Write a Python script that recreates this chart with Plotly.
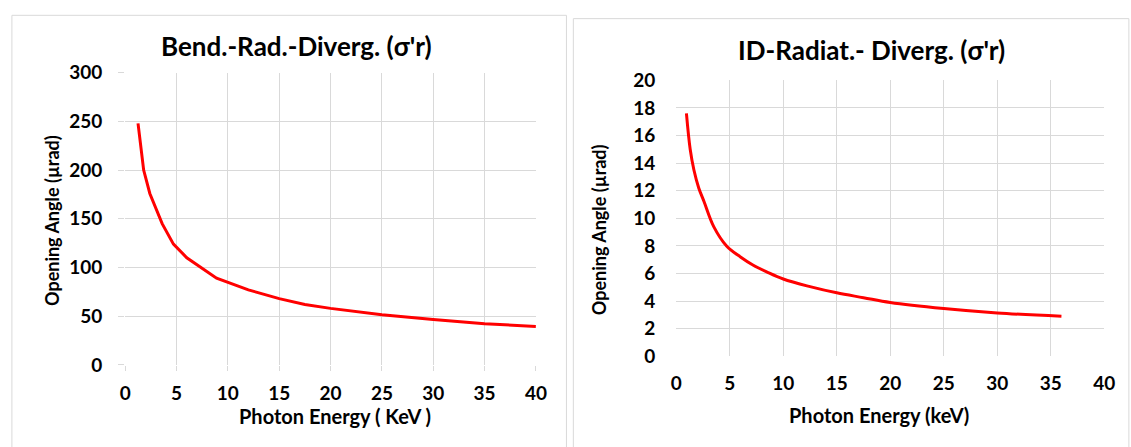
import plotly.graph_objects as go

W, H = 1131, 447

# Bending magnet radiation divergence
bm_energy = [1.25, 1.8, 2.4, 3.6, 4.7, 6.0, 8.9, 12, 15, 17.5, 20, 25, 30, 35, 40]
bm_angle = [248, 200, 176, 145, 124, 110, 89, 77, 68, 62, 58, 51.5, 46.6, 42.3, 39.4]

# Insertion device radiation divergence
id_energy = [0.95, 1.3, 1.65, 2.1, 2.6, 3.5, 4.7, 6, 7.2, 8.5, 10, 12.5, 15, 17.5, 20, 25, 30, 36]
id_angle = [17.6, 15.0, 13.5, 12.2, 11.2, 9.4, 8.0, 7.2, 6.6, 6.1, 5.6, 5.05, 4.6, 4.25, 3.9, 3.46, 3.14, 2.9]

left_title = "Bend.-Rad.-Diverg. (σ'r)"
right_title = "ID-Radiat.- Diverg. (σ'r)"
ytitle = "Opening Angle (µrad)"
left_xtitle = "Photon Energy ( KeV )"
right_xtitle = "Photon Energy (keV)"

FONT = "Lato"
RED = "#ff0000"
GRID = "#d9d9d9"

def px(x):
    return x / W

def py(y):
    return 1 - y / H

fig = go.Figure()
fig.add_trace(go.Scatter(x=bm_energy, y=bm_angle, mode="lines",
                         line=dict(color=RED, width=3), xaxis="x", yaxis="y",
                         showlegend=False))
fig.add_trace(go.Scatter(x=id_energy, y=id_angle, mode="lines",
                         line=dict(color=RED, width=3, shape="spline"),
                         xaxis="x2", yaxis="y2", showlegend=False))

tickfont = dict(family=FONT, size=19, color="#000000", weight="bold")
common = dict(showgrid=True, gridcolor=GRID, gridwidth=1, zeroline=False,
              showline=False, tickfont=tickfont)

fig.update_layout(
    width=W, height=H, margin=dict(l=0, r=0, t=0, b=0),
    paper_bgcolor="white", plot_bgcolor="white",
    xaxis=dict(domain=[px(121), px(538)], range=[0, 40], dtick=5, anchor="y",
               ticks="outside", ticklen=5, tickcolor=GRID, ticklabelstandoff=6,
               **common),
    yaxis=dict(domain=[py(372), py(64)], range=[0, 300], dtick=50, anchor="x",
               ticks="outside", ticklen=6, tickcolor=GRID, ticklabelstandoff=12,
               **common),
    xaxis2=dict(domain=[px(680.5), px(1115)], range=[0, 40], dtick=5, anchor="y2",
                ticks="", ticklabelstandoff=14, **common),
    yaxis2=dict(domain=[py(363), py(72)], range=[0, 20], dtick=2, anchor="x2",
                ticks="", ticklabelstandoff=20, **common),
    shapes=[
        dict(type="rect", xref="paper", yref="paper",
             x0=px(6), x1=px(569), y0=py(460), y1=py(3.5),
             line=dict(color=GRID, width=1)),
        dict(type="rect", xref="paper", yref="paper",
             x0=px(576), x1=px(1140), y0=py(460), y1=py(7),
             line=dict(color=GRID, width=1)),
    ],
)

def ann(text, x, y, size, angle=0):
    fig.add_annotation(text=f"<b>{text}</b>", xref="paper", yref="paper",
                       x=px(x), y=py(y), xanchor="center", yanchor="middle",
                       showarrow=False, textangle=angle,
                       font=dict(family=FONT, size=size, color="#000000"))

ann(left_title, 295, 36, 26)
ann(right_title, 879, 40, 26)
ann(ytitle, 46, 220, 18, -90)
ann(ytitle, 602, 229, 18, -90)
ann(left_xtitle, 334, 426, 20)
ann(right_xtitle, 886, 425, 20)

post = (
    "var d=document.getElementById('{plot_id}');"
    "d.style.position='fixed';d.style.left='0px';d.style.top='0px';"
    "document.documentElement.style.margin='0';"
    "document.documentElement.style.overflow='hidden';"
    "document.body.style.margin='0';document.body.style.overflow='hidden';"
)

fig.write_html("out.html", config={"displayModeBar": False}, post_script=post)
